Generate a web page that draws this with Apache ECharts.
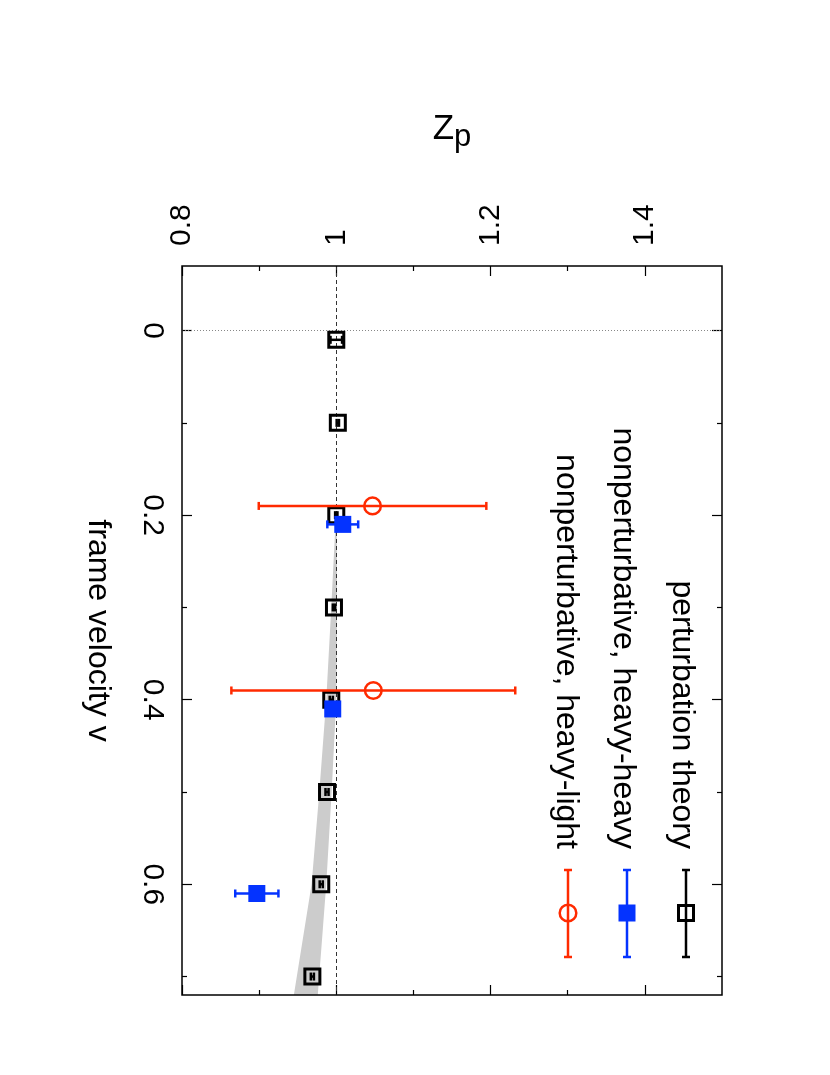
<!DOCTYPE html>
<html><head><meta charset="utf-8">
<script src="https://cdn.jsdelivr.net/npm/echarts@6/dist/echarts.min.js"></script>
<style>html,body{margin:0;padding:0;background:#fff}#c{width:830px;height:1075px}</style>
</head><body><div id="c"></div>
<script>
// ---- axis ticks ----
const zTicks = [0.8, 1.0, 1.2, 1.4];
const zMinor = [0.9, 1.1, 1.3];
const vTicks = [0, 0.2, 0.4, 0.6];
const vMinor = [0.1, 0.3, 0.5, 0.7];

// ---- perturbation theory ----
const ptV   = [0.01, 0.1, 0.2, 0.3, 0.4, 0.5, 0.6, 0.7];
const ptZ   = [1.000, 1.002, 1.000, 0.997, 0.9935, 0.988, 0.9805, 0.969];
const ptErr = [0.0075, 0.0015, 0.0015, 0.0015, 0.002, 0.002, 0.002, 0.002];

// ---- nonperturbative, heavy-heavy ----
const hhV   = [0.21, 0.41, 0.61];
const hhZ   = [1.0084, 0.9954, 0.897];
const hhErr = [0.020, 0.004, 0.028];

// ---- nonperturbative, heavy-light ----
const hlV   = [0.19, 0.39];
const hlZ   = [1.047, 1.048];
const hlErr = [0.1475, 0.184];

// ---- grey band ----
const bandV  = [0.2, 0.3, 0.4, 0.5, 0.6, 0.72];
const bandLo = [0.9995, 0.9935, 0.987, 0.978, 0.968, 0.945];
const bandHi = [1.0005, 1.001, 1.0, 0.994, 0.987, 0.976];

const legendNames = ['perturbation theory', 'nonperturbative, heavy-heavy', 'nonperturbative, heavy-light'];

const FONT = '"Liberation Sans", Arial, Helvetica, sans-serif';
const BLACK = '#000000', BLUE = '#0433ff', RED = '#ff2a00', GREY = '#cccccc';

function errRender(color) {
  return function (params, api) {
    const v = api.value(0), lo = api.value(1), hi = api.value(2);
    const a = api.coord([lo, v]), b = api.coord([hi, v]);
    const h = 4, lw = 2.5;
    const st = { stroke: color, lineWidth: lw };
    return { type: 'group', children: [
      { type: 'line', shape: { x1: a[0], y1: a[1], x2: b[0], y2: b[1] }, style: st },
      { type: 'line', shape: { x1: a[0], y1: a[1] - h, x2: a[0], y2: a[1] + h }, style: st },
      { type: 'line', shape: { x1: b[0], y1: b[1] - h, x2: b[0], y2: b[1] + h }, style: st }
    ]};
  };
}

function errData(V, Z, E) { return V.map((v, i) => [v, Z[i] - E[i], Z[i] + E[i]]); }
function ptData(V, Z) { return V.map((v, i) => [Z[i], v]); }

const tickStyle = { color: BLACK, width: 1.2 };
function xAx(pos, ticks, len, labels) {
  return {
    type: 'value', position: pos, min: 0.8, max: 1.5, gridIndex: 0,
    axisLine: { show: false, onZero: false }, splitLine: { show: false },
    axisTick: { show: true, inside: true, length: len, lineStyle: tickStyle, customValues: ticks },
    axisLabel: labels ? { show: true, customValues: ticks, rotate: -90, margin: 20, fontSize: 30, fontFamily: FONT, color: BLACK,
                          showMinLabel: true, showMaxLabel: true, alignMinLabel: 'left', alignMaxLabel: 'left' } : { show: false }
  };
}
function yAx(pos, ticks, len, labels) {
  return {
    type: 'value', position: pos, min: -0.07, max: 0.72, inverse: true, gridIndex: 0,
    axisLine: { show: false, onZero: false }, splitLine: { show: false },
    axisTick: { show: true, inside: true, length: len, lineStyle: tickStyle, customValues: ticks },
    axisLabel: labels ? { show: true, customValues: ticks, rotate: -90, margin: 15, fontSize: 30, fontFamily: FONT, color: BLACK,
                          showMinLabel: true, showMaxLabel: true } : { show: false }
  };
}

const xAxes = [xAx('top', zTicks, 10, true), xAx('top', zMinor, 5, false), xAx('bottom', zTicks, 10, false), xAx('bottom', zMinor, 5, false)];
xAxes[0].name = '{z|Z}{p|p}';
xAxes[0].nameLocation = 'middle';
xAxes[0].nameGap = 113;
xAxes[0].nameRotate = 0;
xAxes[0].nameTextStyle = { rich: {
  z: { fontSize: 35, fontFamily: FONT, color: BLACK },
  p: { fontSize: 31, fontFamily: FONT, color: BLACK, padding: [16, 0, 0, 0] }
}};
const yAxes = [yAx('left', vTicks, 10, true), yAx('left', vMinor, 5, false), yAx('right', vTicks, 10, false), yAx('right', vMinor, 5, false)];
yAxes[0].name = 'frame velocity v';
yAxes[0].nameLocation = 'middle';
yAxes[0].nameRotate = -90;
yAxes[0].nameGap = 68;
yAxes[0].nameTextStyle = { fontSize: 32, fontFamily: FONT, color: BLACK };

// legend graphics (not data marks)
const legX = [686, 627, 568];
const legTextX = [682, 623, 566];
const legColors = [BLACK, BLUE, RED];
const graphics = [];
legendNames.forEach((n, i) => {
  graphics.push({ type: 'text', x: legTextX[i], y: 849, rotation: -Math.PI / 2, z: 100,
    style: { text: n, fontSize: 32, fontFamily: FONT, fill: BLACK, textAlign: 'right', textVerticalAlign: 'middle' } });
  const x = legX[i], c = legColors[i], st = { stroke: c, lineWidth: 2.5 };
  graphics.push({ type: 'line', z: 100, shape: { x1: x, y1: 870, x2: x, y2: 957 }, style: st });
  graphics.push({ type: 'line', z: 100, shape: { x1: x - 4, y1: 870, x2: x + 4, y2: 870 }, style: st });
  graphics.push({ type: 'line', z: 100, shape: { x1: x - 4, y1: 957, x2: x + 4, y2: 957 }, style: st });
});
graphics.push({ type: 'rect', z: 101, shape: { x: legX[0] - 7.5, y: 913 - 7.5, width: 15, height: 15 }, style: { fill: null, stroke: BLACK, lineWidth: 3 } });
graphics.push({ type: 'rect', z: 101, shape: { x: legX[1] - 8.5, y: 913 - 8.5, width: 17, height: 17 }, style: { fill: BLUE } });
graphics.push({ type: 'circle', z: 101, shape: { cx: legX[2], cy: 913, r: 8.3 }, style: { fill: null, stroke: RED, lineWidth: 2.5 } });

const option = {
  animation: false,
  backgroundColor: '#ffffff',
  grid: { left: 182, top: 266, width: 540, height: 729, containLabel: false, outerBoundsMode: 'none',
          show: true, borderColor: BLACK, borderWidth: 1.5, backgroundColor: 'transparent', z: 10 },
  xAxis: xAxes,
  yAxis: yAxes,
  graphic: graphics,
  series: [
    { type: 'custom', name: 'band', xAxisIndex: 0, yAxisIndex: 0, z: 1,
      data: bandV.map((v, i) => [v, bandLo[i], bandHi[i]]),
      encode: { x: [1, 2], y: 0 },
      renderItem: function (params, api) {
        if (params.dataIndex !== 0) return null;
        const pts = [];
        for (let i = 0; i < bandV.length; i++) pts.push(api.coord([bandLo[i], bandV[i]]));
        for (let i = bandV.length - 1; i >= 0; i--) pts.push(api.coord([bandHi[i], bandV[i]]));
        return { type: 'polygon', shape: { points: pts }, style: { fill: GREY } };
      },
      markLine: { silent: true, symbol: 'none', label: { show: false }, z: 2, animation: false,
        data: [
          { xAxis: 1, lineStyle: { type: [4, 3], color: '#333', width: 1 } },
          { yAxis: 0, lineStyle: { type: [1, 2], color: '#888', width: 1 } }
        ] }
    },
    { type: 'custom', name: 'pt-err', xAxisIndex: 0, yAxisIndex: 0, z: 3,
      data: errData(ptV, ptZ, ptErr), encode: { x: [1, 2], y: 0 }, renderItem: errRender(BLACK) },
    { type: 'scatter', name: legendNames[0], xAxisIndex: 0, yAxisIndex: 0, z: 4,
      data: ptData(ptV, ptZ), symbol: 'rect', symbolSize: 15,
      itemStyle: { color: 'rgba(0,0,0,0)', borderColor: BLACK, borderWidth: 3, opacity: 1 } },
    { type: 'custom', name: 'hh-err', xAxisIndex: 0, yAxisIndex: 0, z: 5,
      data: errData(hhV, hhZ, hhErr), encode: { x: [1, 2], y: 0 }, renderItem: errRender(BLUE) },
    { type: 'scatter', name: legendNames[1], xAxisIndex: 0, yAxisIndex: 0, z: 6,
      data: ptData(hhV, hhZ), symbol: 'rect', symbolSize: 17,
      itemStyle: { color: BLUE, opacity: 1 } },
    { type: 'custom', name: 'hl-err', xAxisIndex: 0, yAxisIndex: 0, z: 7,
      data: errData(hlV, hlZ, hlErr), encode: { x: [1, 2], y: 0 }, renderItem: errRender(RED) },
    { type: 'scatter', name: legendNames[2], xAxisIndex: 0, yAxisIndex: 0, z: 8,
      data: ptData(hlV, hlZ), symbol: 'circle', symbolSize: 16.6,
      itemStyle: { color: 'rgba(0,0,0,0)', borderColor: RED, borderWidth: 2.5, opacity: 1 } }
  ]
};
const chart = echarts.init(document.getElementById('c'), null, { renderer: 'canvas' });
chart.setOption(option);
</script></body></html>
